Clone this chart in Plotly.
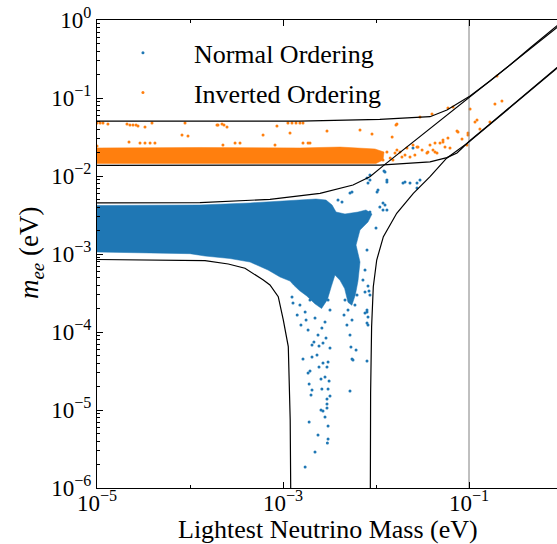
import plotly.graph_objects as go

BLUE = "#1f77b4"
ORANGE = "#ff7f0e"
FONT = "Liberation Serif, Times New Roman, DejaVu Serif, serif"

# ---- Normal ordering: dense region outline (lightest mass [eV], m_ee [eV])
no_band_mass = [1e-5, 1.28e-4, 4.42e-4, 1.19e-3, 2.26e-3, 2.90e-3, 3.37e-3, 3.72e-3,
                4.64e-3, 6.40e-3, 7.80e-3, 9.06e-3, 8.2e-3, 6.73e-3, 6.10e-3, 6.73e-3,
                6.40e-3, 6.0e-3, 5.5e-3, 5.0e-3, 4.6e-3, 4.1e-3, 3.62e-3, 3.3e-3,
                3.0e-3, 2.6e-3, 2.2e-3, 1.8e-3, 1.5e-3, 1.30e-3, 1.19e-3,
                9.29e-4, 6.90e-4, 4.42e-4, 2.69e-4, 1.45e-4, 1.0e-4, 1e-5]
no_band_mee = [4.19e-3, 4.25e-3, 4.51e-3, 4.78e-3, 5.07e-3, 4.92e-3, 4.25e-3, 3.45e-3,
               3.26e-3, 3.45e-3, 3.67e-3, 3.26e-3, 2.57e-3, 2.03e-3, 1.30e-3, 7.89e-4,
               4.5e-4, 3.0e-4, 2.2e-4, 2.4e-4, 3.6e-4, 4.6e-4, 5.38e-4, 3.8e-4,
               2.6e-4, 2.0e-4, 2.3e-4, 2.9e-4, 3.4e-4, 4.0e-4, 4.5e-4,
               5.07e-4, 6.24e-4, 7.89e-4, 8.75e-4, 9.42e-4, 1.01e-3, 1.06e-3]

# ---- Normal ordering: scattered points
no_mass = [1.73e-3, 2.21e-3, 2.38e-3, 1.91e-3, 3.05e-3, 3.05e-3, 3.00e-3, 2.83e-3, 2.69e-3,
           2.56e-3, 2.97e-3, 2.97e-3, 2.97e-3, 3.20e-3, 2.00e-3, 2.05e-3, 2.62e-3, 3.05e-3,
           5.25e-3, 3.13e-3, 1.91e-3, 2.56e-3, 2.83e-3, 1.95e-3, 1.86e-3, 2.44e-3, 2.97e-3,
           1.64e-3, 8.0e-3, 5.52e-3, 5.66e-3, 3.05e-3, 2.69e-3, 2.05e-3, 2.32e-3, 6.10e-3,
           5.38e-3, 3.20e-3, 8.2e-3, 8.2e-3, 8.0e-3, 7.62e-3, 1.42e-3, 1.28e-3, 1.25e-3,
           8.61e-3, 8.41e-3, 8.2e-3, 2.15e-3, 2.44e-3, 2.69e-3, 1.25e-2, 1.31e-2, 8.0e-3,
           8.61e-3, 8.2e-3, 1.026e-2, 1.05e-2, 1.95e-2, 2.05e-2, 2.32e-2, 5.25e-3, 5.52e-3,
           4.31e-3, 3.90e-3, 1.10e-2, 1.25e-2, 1.31e-2, 8.61e-3, 8.2e-3, 2.76e-2, 1.31e-2,
           8.61e-3, 1.22e-2, 2.50e-2, 2.97e-2, 2.76e-2, 1.19e-2, 1.19e-2, 8.2e-3, 1.0e-2,
           8.0e-3, 7.62e-3, 7.24e-3, 7.62e-3, 8.0e-3, 8.0e-3,
           1.52e-3, 1.73e-3, 1.95e-3, 2.21e-3, 2.50e-3, 2.83e-3, 3.20e-3, 1.56e-3, 1.86e-3,
           2.38e-3, 2.62e-3, 3.05e-3, 2.05e-3, 1.77e-3, 2.90e-3, 4.64e-3, 5.0e-3, 5.52e-3,
           4.87e-3, 5.94e-3, 5.25e-3, 4.53e-3, 6.25e-3]
no_mee = [1.86e-6, 2.90e-6, 4.78e-6, 7.02e-6, 6.24e-6, 4.25e-6, 3.78e-6, 8.13e-6, 9.71e-6,
          1.00e-5, 1.06e-5, 1.19e-5, 1.38e-5, 1.51e-5, 1.56e-5, 1.80e-5, 1.86e-5, 1.86e-5,
          1.75e-5, 2.35e-5, 2.15e-5, 2.50e-5, 2.65e-5, 3.16e-5, 2.98e-5, 3.56e-5, 3.56e-5,
          4.51e-5, 4.25e-5, 4.51e-5, 4.38e-5, 4.12e-5, 4.0e-5, 4.78e-5, 5.07e-5, 5.88e-5,
          6.43e-5, 6.24e-5, 1.23e-4, 1.56e-4, 1.80e-4, 1.75e-4, 1.65e-4, 2.35e-4, 2.81e-4,
          2.98e-4, 3.36e-4, 3.89e-4, 7.44e-5, 6.62e-5, 7.22e-5, 1.125e-2, 8.38e-3, 9.42e-3,
          8.89e-3, 8.13e-3, 6.24e-3, 6.62e-3, 8.13e-3, 8.38e-3, 8.13e-3, 6.05e-3, 6.24e-3,
          4.64e-3, 4.92e-3, 4.0e-3, 4.25e-3, 3.67e-3, 3.45e-3, 3.36e-3, 8.13e-3, 8.89e-3,
          1.03e-2, 1.16e-2, 2.29e-2, 8.89e-3, 7.02e-3, 4.51e-3, 3.67e-3, 2.90e-3, 2.15e-3,
          1.125e-3, 6.24e-4, 4.64e-4, 3.26e-4, 1.91e-4, 1.30e-4,
          2.22e-4, 1.80e-4, 2.57e-4, 1.51e-4, 2.22e-4, 1.34e-4, 1.91e-4, 1.23e-4, 1.06e-4,
          9.16e-5, 1.125e-4, 2.57e-4, 6.81e-5, 1.43e-4, 8.38e-5, 2.57e-4, 1.91e-4, 1.43e-4,
          1.23e-4, 2.22e-4, 9.16e-5, 1.65e-4, 2.98e-4]

# ---- Inverted ordering: dense band outline
io_band_mass = [1e-5, 1.28e-4, 1.52e-3, 4.10e-3, 9.75e-3, 1.22e-2, 1.19e-2, 1.0e-2, 1e-5]
io_band_mee = [2.29e-2, 2.32e-2, 2.29e-2, 2.35e-2, 2.22e-2, 2.03e-2, 1.60e-2, 1.45e-2, 1.45e-2]

# ---- Inverted ordering: scattered points
io_mass = [1.0e-5, 1.08e-5, 1.16e-5, 1.31e-5, 2.10e-5, 2.26e-5, 2.44e-5, 2.63e-5, 2.76e-5,
           3.28e-5, 3.90e-5, 8.84e-5, 1.95e-4, 2.0e-4, 2.21e-4, 2.32e-4, 2.50e-4, 8.61e-4,
           1.13e-3, 1.25e-3, 1.38e-3, 1.52e-3, 1.64e-3, 2.97e-3, 6.73e-3, 9.06e-3, 1.68e-2,
           2.97e-2, 4.0e-2, 5.94e-2, 6.73e-2, 0.1026, 0.200, 0.190, 0.226, 0.116, 0.122,
           0.131, 0.168, 1.19e-3, 6.10e-4, 8.20e-5, 9.51e-5, 2.90e-5, 3.28e-5, 3.72e-5,
           4.20e-5, 2.21e-5, 1.0e-5, 3.05e-4, 3.45e-4, 2.26e-4, 8.20e-4, 1.64e-3, 1.86e-3,
           1.95e-3, 1.49e-2, 1.64e-2, 7.43e-2, 7.62e-2, 8.41e-2, 9.75e-2, 5.94e-2, 5.25e-2,
           4.88e-2, 6.25e-2, 4.31e-2, 4.31e-2, 3.81e-2, 3.62e-2, 3.13e-2, 2.76e-2, 2.62e-2,
           2.15e-2, 2.05e-2, 1.81e-2, 1.60e-2, 1.31e-2, 1.42e-2, 1.19e-2, 2.50e-2, 2.83e-2,
           3.53e-2, 4.10e-2, 4.53e-2, 5.25e-2, 5.52e-2, 9.51e-2, 9.75e-2, 2.32e-2, 1.90e-2,
           1.52e-2, 1.68e-2]
io_mee = [0.0478, 0.0478, 0.0478, 0.0464, 0.0464, 0.0451, 0.0451, 0.0451, 0.0438,
          0.0425, 0.0478, 0.0478, 0.0451, 0.0451, 0.0464, 0.0451, 0.0425, 0.0438,
          0.0478, 0.0478, 0.0478, 0.0478, 0.0478, 0.0378, 0.0389, 0.0345, 0.0464,
          0.0571, 0.0624, 0.0745, 0.0767, 0.0723, 0.191, 0.0838, 0.0916, 0.0492, 0.0522,
          0.0401, 0.0492, 0.0356, 0.0336, 0.0336, 0.0326, 0.0265, 0.0265, 0.0265,
          0.0265, 0.0273, 0.0243, 0.0265, 0.0265, 0.0250, 0.0250, 0.0265, 0.0265,
          0.0265, 0.0316, 0.0451, 0.0378, 0.0367, 0.0298, 0.0336, 0.0307, 0.0290,
          0.0265, 0.0229, 0.0265, 0.0203, 0.0250, 0.0203, 0.0215, 0.0235, 0.0186,
          0.0229, 0.0186, 0.0203, 0.0197, 0.0203, 0.0170, 0.0160, 0.0250, 0.0235,
          0.0197, 0.0215, 0.0197, 0.0273, 0.0235, 0.0250, 0.0356, 0.0175, 0.0175,
          0.0160, 0.0215]

# ---- Allowed-region boundaries
io_max_mass = [1e-5, 1.52e-3, 1.10e-2, 3.81e-2, 5.79e-2, 8.0e-2, 0.1026, 0.168, 0.276, 0.453, 0.883, 1.0]
io_max_mee = [0.0505, 0.0505, 0.0533, 0.0576, 0.0702, 0.0889, 0.106, 0.165, 0.265, 0.438, 0.838, 0.95]

io_min_mass = [1e-5, 1.5e-3, 1.1e-2, 3.81e-2, 5.79e-2, 7.43e-2, 0.1026, 0.168, 0.453, 0.883, 1.0]
io_min_mee = [0.0137, 0.0137, 0.0138, 0.0152, 0.0172, 0.0197, 0.0285, 0.0466, 0.126, 0.245, 0.278]

no_max_mass = [1e-5, 1.28e-4, 7.24e-4, 2.50e-3, 5.66e-3, 8.6e-3, 1.22e-2, 2.97e-2, 0.1026, 0.883, 1.0]
no_max_mee = [0.00451, 0.00457, 0.00502, 0.0060, 0.00767, 0.0098, 0.0138, 0.032, 0.102, 0.80, 0.9]

no_min_left_mass = [1e-5, 1.45e-4, 2.58e-4, 3.90e-4, 6.14e-4, 7.24e-4, 8.89e-4, 1.007e-3,
                    1.14e-3, 1.17e-3, 1.195e-3, 1.21e-3, 1.215e-3]
no_min_left_mee = [8.5e-4, 8.2e-4, 7.45e-4, 6.56e-4, 4.64e-4, 4.01e-4, 2.84e-4, 1.43e-4,
                   6.5e-5, 2.43e-5, 7.45e-6, 1e-6, 1e-8]

no_min_right_mass = [8.6e-3, 8.61e-3, 8.75e-3, 8.97e-3, 9.35e-3, 1.018e-2, 1.20e-2, 1.67e-2,
                     2.52e-2, 3.81e-2, 5.75e-2, 0.1026, 0.883, 1.0]
no_min_right_mee = [1e-8, 1.04e-6, 1.65e-5, 1.17e-4, 3.81e-4, 8.37e-4, 1.67e-3, 3.33e-3,
                    6.0e-3, 9.8e-3, 1.69e-2, 0.0280, 0.24, 0.272]

cosmo_limit_mass = [0.1, 0.1]
cosmo_limit_mee = [1e-8, 10]

y_tick_vals = [1e-6, 1e-5, 1e-4, 1e-3, 1e-2, 1e-1, 1e0]
y_tick_text = ["10<sup>−6</sup>", "10<sup>−5</sup>", "10<sup>−4</sup>", "10<sup>−3</sup>",
               "10<sup>−2</sup>", "10<sup>−1</sup>", "10<sup>0</sup>"]
x_tick_vals = [1e-5, 1e-3, 1e-1]
x_tick_text = ["10<sup>−5</sup>", "10<sup>−3</sup>", "10<sup>−1</sup>"]

fig = go.Figure()

fig.add_trace(go.Scatter(x=no_band_mass, y=no_band_mee, mode="lines", fill="toself",
                         fillcolor=BLUE, line=dict(width=0.5, color=BLUE),
                         showlegend=False, hoverinfo="skip"))
fig.add_trace(go.Scatter(x=io_band_mass, y=io_band_mee, mode="lines", fill="toself",
                         fillcolor=ORANGE, line=dict(width=0.5, color=ORANGE),
                         showlegend=False, hoverinfo="skip"))
fig.add_trace(go.Scatter(x=no_mass, y=no_mee, mode="markers", name="Normal Ordering",
                         legendgroup="no",
                         marker=dict(color=BLUE, size=3, line=dict(width=0))))
fig.add_trace(go.Scatter(x=io_mass, y=io_mee, mode="markers", name="Inverted Ordering",
                         legendgroup="io",
                         marker=dict(color=ORANGE, size=3, line=dict(width=0))))

fig.add_trace(go.Scatter(x=cosmo_limit_mass, y=cosmo_limit_mee, mode="lines",
                         line=dict(color="#808080", width=1), showlegend=False))

for xs, ys in [(io_max_mass, io_max_mee), (io_min_mass, io_min_mee),
               (no_max_mass, no_max_mee), (no_min_left_mass, no_min_left_mee),
               (no_min_right_mass, no_min_right_mee)]:
    fig.add_trace(go.Scatter(x=xs, y=ys, mode="lines", line=dict(color="black", width=1.2),
                             showlegend=False))

minor_y = [k * 10.0 ** e for e in range(-6, 0) for k in range(2, 10)]
minor_x = [1e-4, 1e-2]

fig.update_xaxes(type="log", range=[-5, -0.0538], tickmode="array", tickvals=x_tick_vals,
                 ticktext=x_tick_text, ticks="inside", ticklen=6, tickwidth=1,
                 tickcolor="black", showline=True, linecolor="black", linewidth=1,
                 mirror="ticks", showgrid=False, zeroline=False, automargin=False,
                 ticklabelstandoff=-6,
                 tickfont=dict(family=FONT, size=23, color="black"),
                 minor=dict(tickmode="array", tickvals=minor_x, ticks="inside", ticklen=3,
                            tickcolor="black", showgrid=False))
fig.update_yaxes(type="log", range=[-6, 0], tickmode="array", tickvals=y_tick_vals,
                 ticktext=y_tick_text, ticks="inside", ticklen=6, tickwidth=1,
                 tickcolor="black", showline=True, linecolor="black", linewidth=1,
                 showgrid=False, zeroline=False, automargin=False,
                 tickfont=dict(family=FONT, size=23, color="black"),
                 minor=dict(tickmode="array", tickvals=minor_y, ticks="inside", ticklen=3,
                            tickcolor="black", showgrid=False))

fig.add_annotation(text="Lightest Neutrino Mass (eV)", xref="paper", yref="paper",
                   x=0.502, y=-0.089, xanchor="center", yanchor="middle", showarrow=False,
                   font=dict(family=FONT, size=26, color="black"))
fig.add_annotation(text="<i>m</i><sub><i>ee</i></sub> (eV)", xref="paper", yref="paper",
                   x=-0.1435, y=0.504, xanchor="center", yanchor="middle", showarrow=False,
                   textangle=-90, font=dict(family=FONT, size=27, color="black"))

fig.update_layout(
    width=557, height=544,
    margin=dict(l=97, r=0, t=20, b=56, autoexpand=False),
    paper_bgcolor="white", plot_bgcolor="white",
    font=dict(family=FONT, color="black"),
    legend=dict(x=-0.011, y=0.98, xanchor="left", yanchor="top",
                font=dict(family=FONT, size=26, color="black"),
                bgcolor="rgba(0,0,0,0)", itemwidth=92, tracegroupgap=3),
)

fig.write_html("out.html", config={"displayModeBar": False},
               post_script="document.body.style.margin='0';"
                           "document.body.style.overflow='hidden';")
